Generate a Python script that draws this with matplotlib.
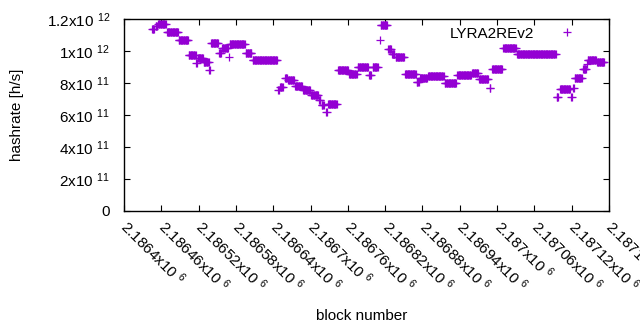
import numpy as np
import matplotlib
matplotlib.use("Agg")
import matplotlib.pyplot as plt
from matplotlib.ticker import FixedLocator, FixedFormatter

plt.rcParams['font.family'] = ['Liberation Sans', 'DejaVu Sans']
plt.rcParams['mathtext.fontset'] = 'custom'
plt.rcParams['mathtext.rm'] = 'Liberation Sans'
plt.rcParams['mathtext.it'] = 'Liberation Sans'

# runs of blocks with constant hashrate (first block, last block, hashrate in 1e12 h/s)
run_start = [2186445, 2186451, 2186455, 2186469, 2186488, 2186504, 2186516, 2186519, 2186528, 2186537,
             2186540, 2186553, 2186558, 2186569, 2186570, 2186596, 2186607, 2186648, 2186651, 2186659,
             2186664, 2186675, 2186688, 2186701, 2186714, 2186718, 2186725, 2186728, 2186744, 2186762,
             2186776, 2186794, 2186800, 2186811, 2186813, 2186825, 2186831, 2186837, 2186852, 2186871,
             2186876, 2186889, 2186916, 2186936, 2186960, 2186971, 2186988, 2186992, 2187010, 2187032,
             2187096, 2187101, 2187119, 2187122, 2187125, 2187138, 2187145, 2187146, 2187161]
run_end = [2186448, 2186453, 2186467, 2186487, 2186503, 2186515, 2186517, 2186527, 2186536, 2186538,
           2186551, 2186556, 2186567, 2186569, 2186594, 2186605, 2186646, 2186649, 2186655, 2186662,
           2186673, 2186686, 2186699, 2186712, 2186716, 2186721, 2186726, 2186742, 2186760, 2186774,
           2186792, 2186797, 2186808, 2186811, 2186823, 2186829, 2186835, 2186850, 2186869, 2186874,
           2186887, 2186914, 2186934, 2186958, 2186969, 2186985, 2186989, 2187008, 2187030, 2187094,
           2187098, 2187117, 2187120, 2187123, 2187136, 2187143, 2187145, 2187159, 2187172]
run_value = [1.14, 1.155, 1.17, 1.12, 1.07, 0.975, 0.925, 0.955, 0.93, 0.88,
             1.05, 0.99, 1.02, 0.96, 1.045, 0.99, 0.945, 0.755, 0.775, 0.83,
             0.82, 0.78, 0.755, 0.725, 0.695, 0.66, 0.62, 0.67, 0.88, 0.855,
             0.9, 0.85, 0.9, 1.07, 1.16, 1.01, 0.98, 0.96, 0.855, 0.805,
             0.83, 0.845, 0.8, 0.85, 0.86, 0.825, 0.77, 0.89, 1.02, 0.98,
             0.715, 0.765, 0.715, 0.77, 0.83, 0.89, 0.92, 0.945, 0.93]

xticks = [2186400 + 60 * i for i in range(14)]
xtick_labels = ['2.1864', '2.18646', '2.18652', '2.18658', '2.18664', '2.1867', '2.18676',
                '2.18682', '2.18688', '2.18694', '2.187', '2.18706', '2.18712', '2.18718']
yticks = [0, 2e11, 4e11, 6e11, 8e11, 1e12, 1.2e12]
ytick_labels = ['0', r'2x10 $^{11}$', r'4x10 $^{11}$', r'6x10 $^{11}$', r'8x10 $^{11}$',
                r'1x10 $^{12}$', r'1.2x10 $^{12}$']

blocks = []
hashrate = []
for s, e, v in zip(run_start, run_end, run_value):
    for b in range(s, e + 1):
        blocks.append(b)
        hashrate.append(v * 1e12)

fig = plt.figure(figsize=(6.4, 3.3), dpi=100)
ax = fig.add_axes([124 / 640, 1 - 211 / 330, (609 - 124) / 640, (211 - 19) / 330])

ax.plot(blocks, hashrate, linestyle='none', marker='+', markersize=5.4, markeredgewidth=0.9,
        color='#9400D3', label='LYRA2REv2')

ax.set_xlim(2186400, 2187180)
ax.set_ylim(0, 1.2e12)

ax.xaxis.set_major_locator(FixedLocator(xticks))
ax.xaxis.set_major_formatter(FixedFormatter([t + r'x10 $^{6}$' for t in xtick_labels]))
ax.yaxis.set_major_locator(FixedLocator(yticks))
ax.yaxis.set_major_formatter(FixedFormatter(ytick_labels))

ax.tick_params(direction='in', length=4, width=0.8, top=True, right=True, labelsize=11, colors='black')
ax.tick_params(axis='y', pad=10)
ax.tick_params(axis='x', pad=9)
for lab in ax.get_xticklabels():
    lab.set_rotation(-45)
    lab.set_ha('left')
    lab.set_va('center')
    lab.set_rotation_mode('anchor')
for sp in ax.spines.values():
    sp.set_linewidth(1.0)

ax.set_xlabel('block number', fontsize=11)
ax.xaxis.set_label_coords(0.49, -0.51)
ax.set_ylabel('hashrate [h/s]', fontsize=11)
ax.yaxis.set_label_coords(-0.207, 0.5)

ax.legend(loc='upper right', bbox_to_anchor=(0.93, 0.96), markerfirst=False, frameon=False,
          fontsize=11, handlelength=1.0, handletextpad=1.7, borderaxespad=0, borderpad=0)

fig.savefig('out.png', dpi=100)
